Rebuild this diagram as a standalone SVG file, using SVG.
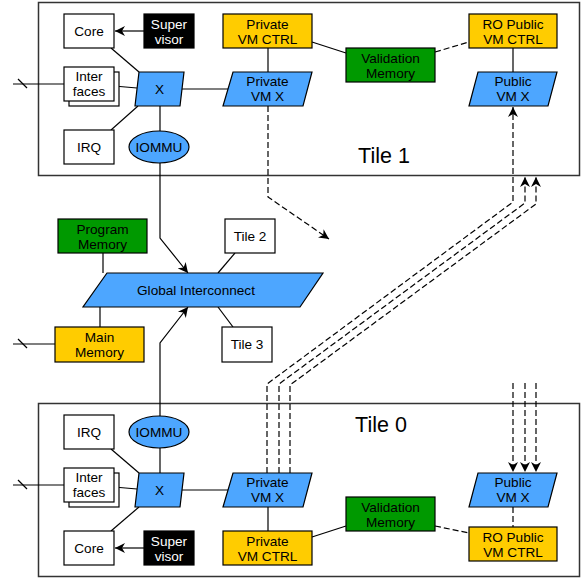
<svg xmlns="http://www.w3.org/2000/svg" width="581" height="579" viewBox="0 0 581 579">
<style>
text{font-family:"Liberation Sans",Arial,sans-serif;font-size:13.6px;text-anchor:middle;fill:#000}
.tile{fill:#fff;stroke:#333;stroke-width:1.5}
.w{fill:#fff;stroke:#000;stroke-width:1.2}
.b{fill:#4da6ff;stroke:#000;stroke-width:1.2}
.y{fill:#ffcc00;stroke:#000;stroke-width:1.2}
.g{fill:#009900;stroke:#000;stroke-width:1.2}
.k{fill:#000;stroke:#000;stroke-width:1.2}
.big{font-size:21.5px}
.wt{fill:#fff}
.c{fill:none;stroke:#000;stroke-width:1.2}
.d{fill:none;stroke:#000;stroke-width:1.2;stroke-dasharray:6 3}
</style>
<defs>
<marker id="a" markerUnits="userSpaceOnUse" markerWidth="12" markerHeight="12" refX="10" refY="5" orient="auto" viewBox="0 0 12 10">
<path d="M0,0 L10,5 L0,10 L3,5 z" fill="#000"/>
</marker>
</defs>
<rect width="581" height="579" fill="#fff"/>
<g id="tile1"><rect class="tile" x="38.5" y="2.5" width="541" height="173"/><text class="big" x="384" y="163">Tile 1</text></g>
<g id="tile0"><rect class="tile" x="38.5" y="403.5" width="541" height="173"/><text class="big" x="381" y="432">Tile 0</text></g>

<g id="connectors">
<path class="c" d="M144,31 L115,31" marker-end="url(#a)"/>
<path class="c" d="M13,84 L64,84"/>
<path class="c" d="M18,79 L27,88"/>
<path class="c" d="M114,86 L137,88"/>
<path class="c" d="M111,48 L139,72"/>
<path class="c" d="M111,130 L138,106"/>
<path class="c" d="M160,106 L160,131"/>
<path class="c" d="M182,89 L229,89"/>
<path class="c" d="M268,48 L268,72"/>
<path class="c" d="M312,42 L346,53"/>
<path class="d" d="M435,52 L469,42"/>
<path class="c" d="M513,48 L513,72"/>
<path class="d" d="M268,106 L268,197 L329,239" marker-end="url(#a)"/>
<path class="c" d="M160,163 L160,238 L188,273" marker-end="url(#a)"/>
<path class="c" d="M103,253 L103,273"/>
<path class="c" d="M100,307 L100,327"/>
<path class="c" d="M13,344 L55,344"/>
<path class="c" d="M18,339 L27,348"/>
<path class="c" d="M235,253 L218,273"/>
<path class="c" d="M218,307 L233,327"/>
<path class="c" d="M160,416 L160,343 L188,307" marker-end="url(#a)"/>
<path class="d" d="M267,473 L267,384 L513,202 L513,107" marker-end="url(#a)"/>
<path class="d" d="M279,473 L279,384 L525,203 L525,177" marker-end="url(#a)"/>
<path class="d" d="M290,473 L290,385 L536,204 L536,177" marker-end="url(#a)"/>
<path class="d" d="M513,383 L513,472" marker-end="url(#a)"/>
<path class="d" d="M525,383 L525,472" marker-end="url(#a)"/>
<path class="d" d="M536,383 L536,472" marker-end="url(#a)"/>
<path class="c" d="M144,548 L115,548" marker-end="url(#a)"/>
<path class="c" d="M13,485 L64,485"/>
<path class="c" d="M18,480 L27,489"/>
<path class="c" d="M114,487 L137,489"/>
<path class="c" d="M111,531 L139,507"/>
<path class="c" d="M111,449 L139,473"/>
<path class="c" d="M160,448 L160,473"/>
<path class="c" d="M182,490 L229,490"/>
<path class="c" d="M268,507 L268,531"/>
<path class="c" d="M312,537 L346,526"/>
<path class="d" d="M435,526 L469,533"/>
<path class="d" d="M513,507 L513,527"/>
</g>

<g id="core1"><rect class="w" x="64" y="14" width="50" height="34"/><text x="89" y="36">Core</text></g>
<g id="supervisor1"><rect class="k" x="144" y="14" width="50" height="34"/><text class="wt" x="169" y="29">Super</text><text class="wt" x="169" y="44">visor</text></g>
<g id="interfaces1"><rect class="w" x="69" y="72" width="50" height="34"/><rect class="w" x="64" y="67" width="50" height="34"/><text x="89" y="81">Inter</text><text x="89" y="96">faces</text></g>
<g id="irq1"><rect class="w" x="64" y="130" width="50" height="34"/><text x="89" y="152">IRQ</text></g>
<g id="x1"><polygon class="b" points="139,72 184,72 180,106 135,106"/><text x="159.5" y="94">X</text></g>
<g id="iommu1"><ellipse class="b" cx="159" cy="147" rx="30" ry="16"/><text x="159" y="152">IOMMU</text></g>
<g id="pvmctrl1"><rect class="y" x="223" y="14" width="89" height="34"/><text x="267.5" y="29">Private</text><text x="267.5" y="44">VM CTRL</text></g>
<g id="pvmx1"><polygon class="b" points="233,72 312,72 303,106 223,106"/><text x="267.5" y="86">Private</text><text x="267.5" y="101">VM X</text></g>
<g id="valmem1"><rect class="g" x="346" y="48" width="89" height="34"/><text x="390.5" y="63">Validation</text><text x="390.5" y="78">Memory</text></g>
<g id="ropub1"><rect class="y" x="469" y="14" width="88" height="34"/><text x="513" y="29">RO Public</text><text x="513" y="44">VM CTRL</text></g>
<g id="pubvmx1"><polygon class="b" points="478,72 557,72 548,106 469,106"/><text x="513" y="86">Public</text><text x="513" y="101">VM X</text></g>

<g id="progmem"><rect class="g" x="58" y="219" width="89" height="34"/><text x="102.5" y="234">Program</text><text x="102.5" y="249">Memory</text></g>
<g id="mainmem"><rect class="y" x="55" y="327" width="89" height="35"/><text x="99.5" y="342">Main</text><text x="99.5" y="357">Memory</text></g>
<g id="globalic"><polygon class="b" points="107,273 323,273 300,307 83,307"/><text x="196" y="295">Global Interconnect</text></g>
<g id="tile2"><rect class="w" x="225" y="219" width="50" height="34"/><text x="250" y="241">Tile 2</text></g>
<g id="tile3"><rect class="w" x="222" y="327" width="50" height="35"/><text x="247" y="349">Tile 3</text></g>

<g id="irq0"><rect class="w" x="64" y="415" width="50" height="34"/><text x="89" y="437">IRQ</text></g>
<g id="iommu0"><ellipse class="b" cx="159" cy="432" rx="30" ry="16"/><text x="159" y="437">IOMMU</text></g>
<g id="interfaces0"><rect class="w" x="69" y="473" width="50" height="34"/><rect class="w" x="64" y="468" width="50" height="34"/><text x="89" y="482">Inter</text><text x="89" y="497">faces</text></g>
<g id="x0"><polygon class="b" points="139,473 184,473 180,507 135,507"/><text x="159.5" y="495">X</text></g>
<g id="core0"><rect class="w" x="64" y="531" width="50" height="34"/><text x="89" y="553">Core</text></g>
<g id="supervisor0"><rect class="k" x="144" y="531" width="50" height="34"/><text class="wt" x="169" y="546">Super</text><text class="wt" x="169" y="561">visor</text></g>
<g id="pvmx0"><polygon class="b" points="233,473 312,473 303,507 223,507"/><text x="267.5" y="487">Private</text><text x="267.5" y="502">VM X</text></g>
<g id="pvmctrl0"><rect class="y" x="223" y="531" width="89" height="34"/><text x="267.5" y="546">Private</text><text x="267.5" y="561">VM CTRL</text></g>
<g id="valmem0"><rect class="g" x="346" y="497" width="89" height="34"/><text x="390.5" y="512">Validation</text><text x="390.5" y="527">Memory</text></g>
<g id="pubvmx0"><polygon class="b" points="478,473 557,473 548,507 469,507"/><text x="513" y="487">Public</text><text x="513" y="502">VM X</text></g>
<g id="ropub0"><rect class="y" x="469" y="527" width="88" height="34"/><text x="513" y="542">RO Public</text><text x="513" y="557">VM CTRL</text></g>
</svg>
